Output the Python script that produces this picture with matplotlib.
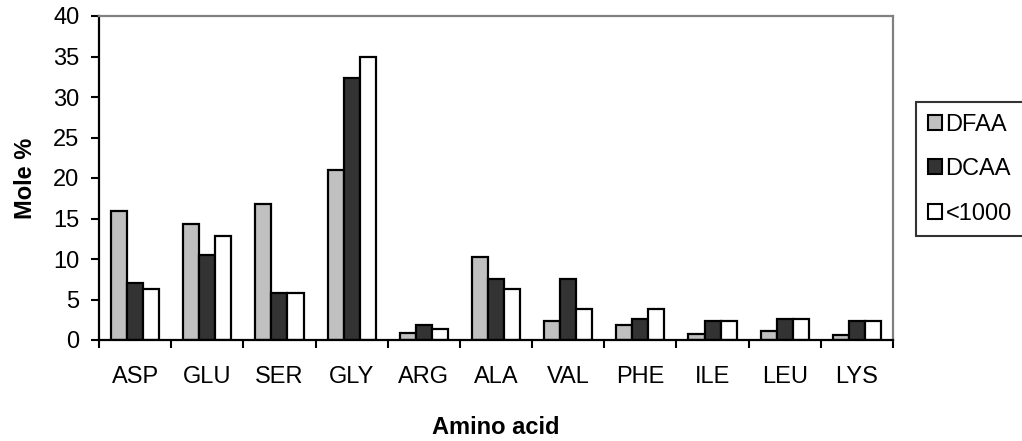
import numpy as np
import matplotlib.pyplot as plt
from matplotlib.patches import Patch

plt.rcParams['font.family'] = ['Liberation Sans', 'DejaVu Sans']

amino = ['ASP', 'GLU', 'SER', 'GLY', 'ARG', 'ALA', 'VAL', 'PHE', 'ILE', 'LEU', 'LYS']
dfaa = [15.9, 14.3, 16.8, 21.0, 0.9, 10.2, 2.3, 1.8, 0.8, 1.1, 0.6]
dcaa = [7.0, 10.5, 5.8, 32.3, 1.9, 7.5, 7.5, 2.6, 2.4, 2.6, 2.4]
lt1000 = [6.3, 12.8, 5.8, 35.0, 1.3, 6.3, 3.8, 3.8, 2.4, 2.6, 2.4]
series = ['DFAA', 'DCAA', '<1000']
colors = ['#c0c0c0', '#333333', '#ffffff']

fig = plt.figure(figsize=(10.22, 4.41), dpi=100)
ax = fig.add_axes([99/1022, 1-340/441, (893-99)/1022, (340-16)/441])

x = np.arange(len(amino))
w = 0.667/3
for i, (vals, c) in enumerate(zip([dfaa, dcaa, lt1000], colors)):
    ax.bar(x + (i-1)*w, vals, width=w, color=c, edgecolor='black', linewidth=1.6)

ax.set_xlim(-0.5, len(amino)-0.5)
ax.set_ylim(0, 40)
ax.set_yticks(np.arange(0, 41, 5))
ax.set_xticks(x)
ax.set_xticklabels(amino)
ax.set_xticks(np.arange(-0.5, len(amino), 1), minor=True)
ax.tick_params(axis='x', which='major', length=0, pad=19, labelsize=17)
ax.tick_params(axis='x', which='minor', length=6, width=1.5, direction='out')
ax.tick_params(axis='y', length=6, width=1.5, direction='out', pad=8, labelsize=17)

for s in ['left', 'bottom']:
    ax.spines[s].set_linewidth(1.6)
    ax.spines[s].set_color('black')
for s in ['top', 'right']:
    ax.spines[s].set_linewidth(1.6)
    ax.spines[s].set_color('#808080')

ax.set_xlabel('Amino acid', fontsize=17, fontweight='bold', labelpad=20)
ax.set_ylabel('Mole %', fontsize=17, fontweight='bold', labelpad=12)

handles = [Patch(facecolor=c, edgecolor='black', linewidth=1.5) for c in colors]
leg = fig.legend(handles, series, loc='upper left', bbox_to_anchor=(916/1022, 1-102/441),
                 fontsize=17, frameon=True, fancybox=False, edgecolor='black',
                 handlelength=0.6, handleheight=0.6, handletextpad=0.15,
                 labelspacing=0.95, borderpad=0.5, borderaxespad=0)
leg.get_frame().set_linewidth(1.5)

fig.savefig('out.png', dpi=100)
